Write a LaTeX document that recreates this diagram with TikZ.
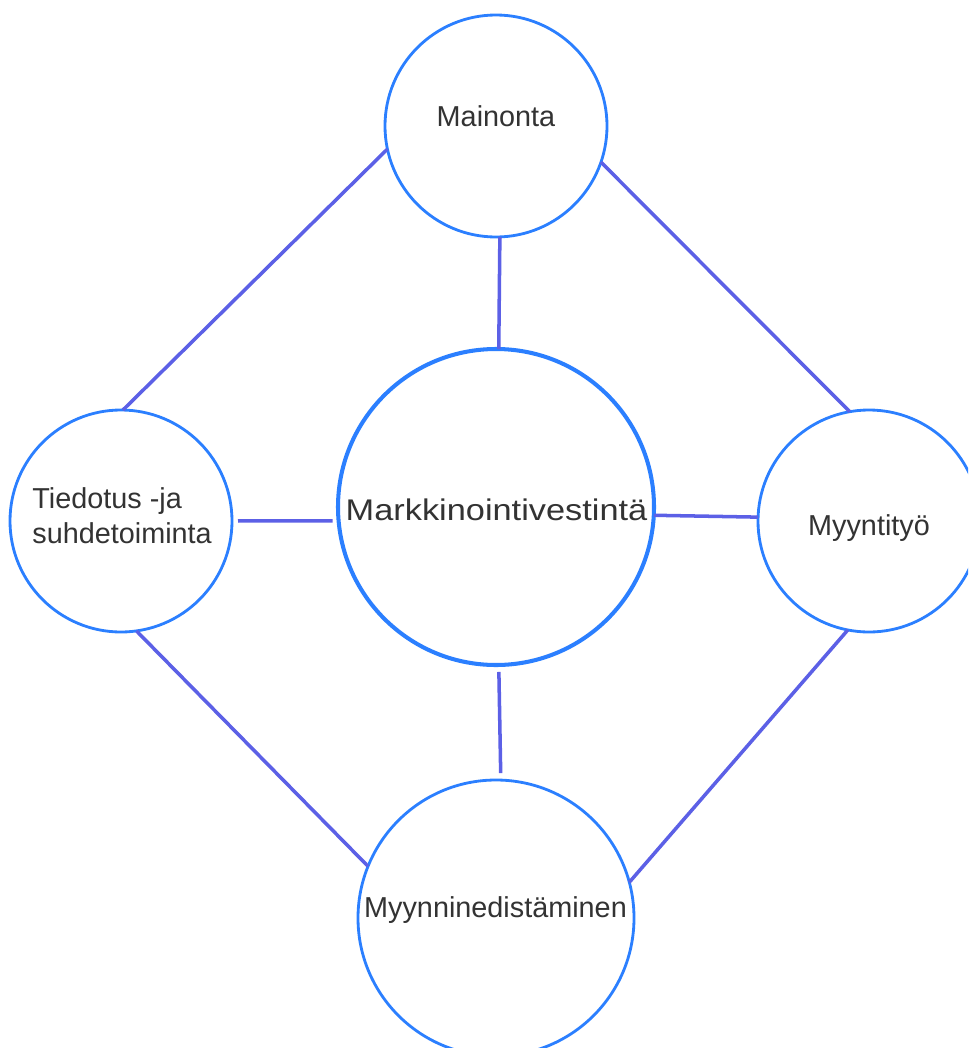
\documentclass[tikz,border=0pt]{standalone}
\usepackage{fontspec}
\setmainfont{Liberation Sans}
\definecolor{ringblue}{RGB}{43,127,255}
\definecolor{linkviolet}{RGB}{92,96,230}
\definecolor{inkgray}{RGB}{51,51,51}
\begin{document}
\begin{tikzpicture}[x=0.02cm,y=-0.02cm,
  ring/.style={circle,draw=ringblue,line width=1.6pt,fill=white,
    inner sep=0pt,outer sep=0pt,minimum size=#1*0.02cm},
  hub/.style={ring=#1,line width=2.3pt},
  link/.style={draw=linkviolet,line width=2pt},
  caption/.style={text=inkgray,font=\fontsize{16.4}{19.8}\selectfont,
    inner sep=0pt,anchor=base}]
\useasboundingbox (0,0) rectangle (968,1048);
\clip (0,0) rectangle (968,1048);

% circles
\node[hub=316]  (core)  at (496,507) {};
\node[ring=222] (ad)    at (496,126) {};
\node[ring=222] (pr)    at (121,521) {};
\node[ring=222] (sales) at (869,521) {};
\node[ring=276] (promo) at (496,918) {};

% connectors
\draw[link] (ad.-19)   -- (sales.100);
\draw[link] (ad.192)   -- (pr.89);
\draw[link] (pr.-82)   -- (promo.158.6);
\draw[link] (sales.-101) -- (promo.15);
\draw[link] (ad.-88.5) -- (core.89);
\draw[link,shorten <=0.14cm,shorten >=0.14cm] (core.-89) -- (promo.88.75);
\draw[link,shorten <=0.12cm,shorten >=0.12cm] (pr.0) -- (core.-175.3);
\draw[link] (core.-3.6) -- (sales.178);

% labels
\node[caption,font=\fontsize{17}{20}\selectfont] (coreT) at (496.5,520)
  {\scalebox{1.15}[1]{Markkinointivestintä}};
\node[caption] (adT) at (496,126) {Mainonta};
\node[caption,anchor=north west,align=left] (prT) at (32,487)
  {Tiedotus -ja\\suhdetoiminta};
\node[caption] (salesT) at (869,535) {Myyntityö};
\node[caption] (promoT) at (495.5,917) {Myynninedistäminen};
\end{tikzpicture}
\end{document}
